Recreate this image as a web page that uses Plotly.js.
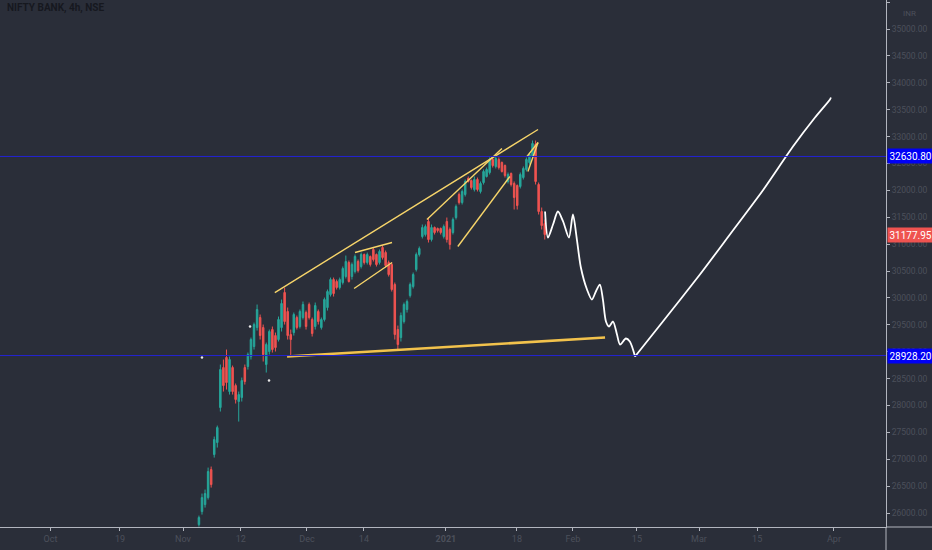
<!DOCTYPE html>
<html>
<head>
<meta charset="utf-8">
<script src="https://cdn.plot.ly/plotly-3.0.1.min.js"></script>
<style>
  html, body { margin: 0; padding: 0; background: #2a2e39; }
  #chart { width: 932px; height: 550px; }
</style>
</head>
<body>
<div id="chart"></div>
<script>
// 4h candles, one per bar index (0 = first visible bar)
const open = [25785,26027,26157,26287,26808,27087,27310,27961,28705,28891,
  28259,28705,28370,28073,28147,28705,28724,28910,29096,29449,
  29635,29449,28761,29003,29412,29300,29226,29449,30100,29747,
  29319,29356,29635,29468,29635,29728,29877,29598,29468,29747,
  29449,29598,29821,30063,30342,30305,30193,30286,30398,30658,
  30398,30491,30677,30584,30807,30658,30770,30900,30807,30658,
  30937,30844,30658,30621,30249,29412,29263,29561,29784,30044,
  30212,30528,30807,31142,31179,31421,31086,31309,31291,31291,
  31142,31421,31272,31216,31495,31923,31774,31923,32221,32183,
  32016,32202,31979,32146,32258,32332,32574,32444,32574,32518,
  32462,32165,32314,32128,32090,32072,32239,32388,32518,32630,
  32853,32109,31607,31384];
const high = [25952,26362,26436,26845,26864,27422,27626,28761,28854,29040,
  28910,28742,28408,28259,28519,28761,28984,29263,29542,29877,
  29691,29505,29170,29412,29468,29356,29654,29970,30193,29821,
  29412,29728,29672,29784,29933,29765,29914,29635,29914,29784,
  29635,30007,30156,30379,30379,30342,30379,30584,30788,30695,
  30658,30807,30714,30844,30826,30844,30788,30937,30826,30900,
  30974,30881,30695,30658,30286,29486,29728,29914,29970,30286,
  30472,30844,30956,31365,31365,31495,31365,31328,31309,31309,
  31365,31495,31309,31495,31737,31960,32016,32202,32258,32202,
  32258,32239,32165,32388,32425,32611,32611,32630,32611,32537,
  32481,32332,32332,32165,32109,32332,32444,32611,32704,32927,
  32927,32146,31681,31458];
const low = [25748,25971,26101,26250,26473,27031,27217,27887,28259,28296,
  28203,28203,28036,27701,28073,28389,28668,28854,29040,29393,
  29226,28817,28612,28947,28984,29003,29189,29375,29505,29226,
  28910,29300,29412,29431,29598,29412,29598,29282,29412,29505,
  29412,29561,29765,30026,30026,30156,30156,30249,30361,30286,
  30342,30454,30472,30547,30621,30621,30584,30677,30584,30621,
  30714,30565,30398,30119,29226,29040,29189,29524,29728,30007,
  30175,30491,30770,31105,31142,31030,31049,31179,31216,31179,
  31105,31030,30900,31179,31458,31737,31737,31886,32146,32016,
  31979,31979,31942,32109,32239,32295,32425,32407,32388,32332,
  32239,32128,32072,31644,31644,32035,32202,32351,32481,32593,
  32109,31551,31272,31086];
const close = [25915,26287,26362,26771,26529,27366,27589,28668,28370,28426,
  28854,28259,28110,28203,28463,28445,28947,29226,29505,29784,
  29300,28947,29133,29375,29040,29077,29598,29896,29561,29300,
  29226,29691,29449,29747,29877,29468,29635,29338,29858,29561,
  29598,29970,30119,30342,30082,30193,30342,30547,30677,30305,
  30621,30770,30509,30807,30658,30807,30621,30714,30621,30863,
  30751,30602,30435,30156,29319,29133,29672,29877,29933,30249,
  30435,30807,30919,31309,31328,31086,31309,31216,31253,31216,
  31328,31086,30993,31458,31700,31774,31979,32165,32165,32053,
  32202,32016,32128,32351,32388,32574,32462,32593,32425,32351,
  32276,32295,32109,31867,31718,32295,32407,32574,32667,32872,
  32165,31607,31346,31177.95];

// x axis labels (bar index where each label sits)
const tickPos = [-48.5,-25.8,-5.2,13.7,35.3,53.9,80.7,103.9,122.2,143.1,163.4,182.4,207.5];
const tickText = ["Oct","19","Nov","12","Dec","14","<b>2021</b>","18","Feb","15","Mar","15","Apr"];

// horizontal levels and last price
const levels = [32630.80, 28928.20];
const lastPrice = 31177.95;

// hand drawn projection (white), down leg then up leg
const pathDownX = [113.1,114.05,115.7,117.3,119.0,120.9,122.2,123.5,124.8,126.8,
  128.4,129.7,131.0,132.0,133.0,134.0,135.3,136.6,137.6,139.5,140.8,142.5];
const pathDownY = [31607,31123,31365,31607,31421,31123,31551,31086,30565,30156,
  29970,30119,30249,29970,29561,29468,29561,29319,29133,29245,29189,28910];
const pathUpX = [142.5,151.6,163.7,173.5,184.0,194.1,201.3,206.2,206.5];
const pathUpY = [28910,29561,30435,31179,31979,32816,33355,33690,33727];

// trend lines [x0, x1], [y0, y1]
const trendX = [[24.8,110.8],[51.0,63.1],[50.7,63.1],[74.5,99.0],[84.6,101.6],[107.5,110.8],[107.2,110.8]];
const trendY = [[30100,33132],[30844,31030],[30175,30658],[31458,32779],[30956,32258],[32351,32890],[32630,32890]];
const supportX = [28.8,132.7];
const supportY = [28910,29263];

// stray dots
const dotX = [1.0,16.7,22.9];
const dotY = [28891,29468,28463];

const bars = open.map((_, i) => i);

const traces = [];

traces.push({
  type: 'candlestick',
  x: bars, open: open, high: high, low: low, close: close,
  increasing: { line: { color: '#26a69a', width: 1 }, fillcolor: '#26a69a' },
  decreasing: { line: { color: '#ef5350', width: 1 }, fillcolor: '#ef5350' },
  whiskerwidth: 0,
  hoverinfo: 'skip',
  showlegend: false
});

trendX.forEach((tx, k) => {
  traces.push({
    type: 'scatter', mode: 'lines', x: tx, y: trendY[k],
    line: { color: '#f7d56a', width: 1.4 },
    hoverinfo: 'skip', showlegend: false
  });
});

traces.push({
  type: 'scatter', mode: 'lines', x: supportX, y: supportY,
  line: { color: '#f2c24c', width: 2.6 },
  hoverinfo: 'skip', showlegend: false
});

traces.push({
  type: 'scatter', mode: 'lines', x: pathDownX, y: pathDownY,
  line: { color: '#ffffff', width: 1.8, shape: 'spline', smoothing: 0.8 },
  hoverinfo: 'skip', showlegend: false
});
traces.push({
  type: 'scatter', mode: 'lines', x: pathUpX, y: pathUpY,
  line: { color: '#ffffff', width: 1.8, shape: 'spline', smoothing: 0.6 },
  hoverinfo: 'skip', showlegend: false
});

traces.push({
  type: 'scatter', mode: 'markers', x: dotX, y: dotY,
  marker: { color: '#e8e8e8', size: 2.5 },
  hoverinfo: 'skip', showlegend: false
});

const shapes = levels.map(v => ({
  type: 'line', xref: 'paper', yref: 'y', x0: 0, x1: 1, y0: v, y1: v,
  line: { color: '#2323d6', width: 1 }
}));
// axis lines running past the corner
shapes.push({ type: 'line', xref: 'paper', yref: 'paper', x0: 1, x1: 1, y0: -0.05, y1: 0,
  line: { color: '#b2b5be', width: 1 } });
shapes.push({ type: 'line', xref: 'paper', yref: 'paper', x0: 1, x1: 1.06, y0: 0, y1: 0,
  line: { color: '#b2b5be', width: 1 } });

function priceTag(v, bg) {
  return {
    xref: 'paper', yref: 'y', x: 1, y: v, xanchor: 'left', yanchor: 'middle',
    xshift: 1, text: v.toFixed(2), showarrow: false,
    font: { family: 'Roboto, sans-serif', size: 10, color: '#ffffff' },
    bgcolor: bg, borderpad: 1.5
  };
}

const annotations = [
  priceTag(levels[0], '#0000f5'),
  priceTag(levels[1], '#0000f5'),
  priceTag(lastPrice, '#ef5350'),
  {
    xref: 'paper', yref: 'paper', x: 0.006, y: 0.985, xanchor: 'left', yanchor: 'middle',
    text: '<b>NIFTY BANK, 4h, NSE</b>', showarrow: false,
    font: { family: 'Roboto, sans-serif', size: 10, color: '#16181f' }
  },
  {
    xref: 'paper', yref: 'paper', x: 1.026, y: 0.975, xanchor: 'center', yanchor: 'middle',
    text: 'INR', showarrow: false,
    font: { family: 'Roboto, sans-serif', size: 8, color: '#4c505b' }
  }
];

const layout = {
  width: 932, height: 550,
  margin: { l: 0, r: 46, t: 0, b: 23 },
  paper_bgcolor: '#2a2e39',
  plot_bgcolor: '#2a2e39',
  font: { family: 'Roboto, sans-serif', size: 9, color: '#4c505b' },
  showlegend: false,
  dragmode: false,
  xaxis: {
    range: [-65, 224.5],
    showgrid: false, zeroline: false,
    showline: true, linecolor: '#b2b5be', linewidth: 1,
    ticks: 'outside', ticklen: 3, tickcolor: '#b2b5be',
    tickmode: 'array', tickvals: tickPos, ticktext: tickText,
    tickfont: { size: 9, color: '#4c505b' },
    rangeslider: { visible: false },
    fixedrange: true
  },
  yaxis: {
    side: 'right',
    range: [25740, 35540],
    showgrid: false, zeroline: false,
    showline: true, linecolor: '#b2b5be', linewidth: 1,
    ticks: 'outside', ticklen: 3, tickcolor: '#b2b5be',
    dtick: 500, tick0: 26000, tickformat: '.2f',
    tickfont: { size: 8.5, color: '#4c505b' },
    fixedrange: true
  },
  shapes: shapes,
  annotations: annotations
};

Plotly.newPlot('chart', traces, layout, { displayModeBar: false, staticPlot: true });
</script>
</body>
</html>
